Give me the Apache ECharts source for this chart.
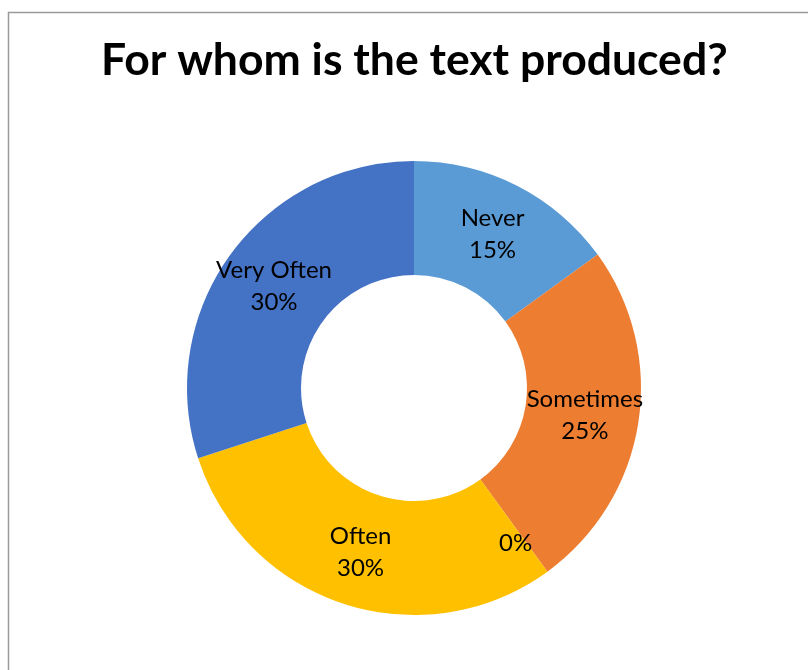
<!DOCTYPE html>
<html>
<head>
<meta charset="utf-8">
<title>For whom is the text produced?</title>
<script src="https://cdn.jsdelivr.net/npm/echarts@6/dist/echarts.min.js"></script>
<style>
  html, body { margin: 0; padding: 0; background: #ffffff; }
  #chart { width: 808px; height: 670px; }
</style>
</head>
<body>
<div id="chart"></div>
<script>
// Survey answers and their shares (percent)
const categories = ['Never', 'Sometimes', '', 'Often', 'Very Often'];
const shares = [15, 25, 0, 30, 30];
const colors = ['#5B9BD5', '#ED7D31', '#A5A5A5', '#FFC000', '#4472C4'];

const chart = echarts.init(document.getElementById('chart'), null, { renderer: 'canvas' });

const pieData = categories.map((name, i) => {
  const item = { name: name, value: shares[i], itemStyle: { color: colors[i] } };
  // the unnamed zero-share slice keeps its label a little further out
  if (!name) item.label = { offset: [0, 15] };
  return item;
});

chart.setOption({
  backgroundColor: '#ffffff',
  animation: false,
  title: {
    text: 'For whom is the text produced?',
    left: 96,
    top: 33,
    textStyle: {
      fontFamily: 'Lato',
      fontWeight: 'bold',
      fontSize: 44.5,
      color: '#000000'
    }
  },
  graphic: [{
    type: 'rect',
    shape: { x: 8.5, y: 12.5, width: 820, height: 680 },
    style: { fill: 'none', stroke: '#9a9a9a', lineWidth: 1.5 },
    silent: true
  }],
  series: [{
    type: 'pie',
    center: [414, 388],
    radius: [113, 227],
    startAngle: 90,
    clockwise: true,
    avoidLabelOverlap: false,
    minShowLabelAngle: 0,
    label: {
      show: true,
      position: 'inner',
      fontFamily: 'Lato',
      fontSize: 24,
      lineHeight: 32,
      color: '#000000',
      formatter: (p) => (p.name ? p.name + '\n' : '') + p.percent + '%'
    },
    labelLine: { show: false },
    emphasis: { disabled: true },
    data: pieData
  }]
});
</script>
</body>
</html>
